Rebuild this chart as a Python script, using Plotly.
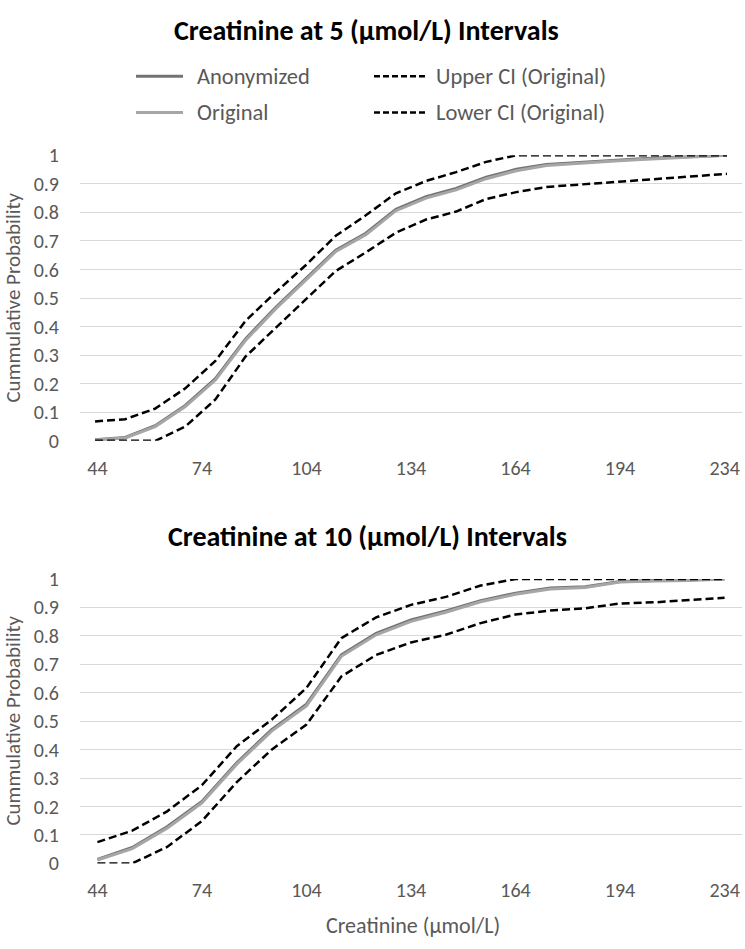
import plotly.graph_objects as go

# ---------------- data ----------------
# Top chart: 5 umol/L intervals (22 bins)
top_bins = [44, 49, 54, 59, 64, 69, 74, 79, 84, 89, 94, 99, 104, 109, 114,
            119, 124, 129, 134, 139, 144, 234]
top_anonymized = [0.004, 0.012, 0.053, 0.124, 0.218, 0.357, 0.467, 0.568, 0.668, 0.727, 0.811,
                  0.855, 0.884, 0.923, 0.951, 0.968, 0.975, 0.981, 0.987, 0.992, 0.996, 1.000]
top_original = [0.003, 0.010, 0.050, 0.120, 0.213, 0.352, 0.462, 0.563, 0.663, 0.722, 0.806,
                0.850, 0.879, 0.918, 0.946, 0.964, 0.972, 0.978, 0.984, 0.990, 0.994, 1.000]
top_upper = [0.068, 0.076, 0.113, 0.184, 0.280, 0.420, 0.520, 0.615, 0.718, 0.790, 0.867,
             0.910, 0.941, 0.977, 1.000, 1.000, 1.000, 1.000, 1.000, 1.000, 1.000, 1.000]
top_lower = [0.000, 0.000, 0.000, 0.050, 0.145, 0.295, 0.395, 0.492, 0.595, 0.660, 0.729,
             0.775, 0.803, 0.847, 0.871, 0.889, 0.897, 0.905, 0.913, 0.920, 0.927, 0.935]

# Bottom chart: 10 umol/L intervals (19 bins)
bot_bins = [44, 54, 64, 74, 84, 94, 104, 114, 124, 134, 144, 154, 164, 174, 184,
            194, 204, 214, 234]
bot_anonymized = [0.014, 0.056, 0.129, 0.218, 0.354, 0.470, 0.560, 0.733, 0.809, 0.856,
                  0.888, 0.924, 0.950, 0.968, 0.973, 0.991, 0.995, 0.997, 1.000]
bot_original = [0.012, 0.052, 0.124, 0.213, 0.349, 0.465, 0.554, 0.728, 0.804, 0.851,
                0.883, 0.920, 0.946, 0.965, 0.970, 0.989, 0.993, 0.995, 1.000]
bot_upper = [0.075, 0.115, 0.183, 0.275, 0.412, 0.505, 0.617, 0.792, 0.865, 0.909,
             0.937, 0.977, 1.000, 1.000, 1.000, 1.000, 1.000, 1.000, 1.000]
bot_lower = [0.000, 0.000, 0.058, 0.149, 0.286, 0.400, 0.488, 0.657, 0.733, 0.777,
             0.804, 0.845, 0.875, 0.889, 0.897, 0.914, 0.918, 0.926, 0.934]

label_every = 3
series_names = ["Anonymized", "Original", "Upper CI (Original)", "Lower CI (Original)"]

# ---------------- styles ----------------
W, H = 745, 949
FONT = "Carlito, Lato, sans-serif"
GRAY_TXT = "#595959"
C_ANON = "#737373"
C_ORIG = "#a6a6a6"
DASH = "8px,4px"

def px_x(p):
    return p / W

def px_y(p):
    return 1 - p / H

fig = go.Figure()

def add_chart(bins, anon, orig, upper, lower, xa, ya):
    xs = list(range(len(bins)))
    hov = [str(b) for b in bins]
    fig.add_trace(go.Scatter(x=xs, y=anon, mode="lines", name=series_names[0],
                             line=dict(color=C_ANON, width=3), xaxis=xa, yaxis=ya,
                             showlegend=False, cliponaxis=False, text=hov))
    fig.add_trace(go.Scatter(x=xs, y=orig, mode="lines", name=series_names[1],
                             line=dict(color=C_ORIG, width=3), xaxis=xa, yaxis=ya,
                             showlegend=False, cliponaxis=False, text=hov))
    fig.add_trace(go.Scatter(x=xs, y=upper, mode="lines", name=series_names[2],
                             line=dict(color="black", width=2.5, dash=DASH), xaxis=xa, yaxis=ya,
                             showlegend=False, cliponaxis=False, text=hov))
    fig.add_trace(go.Scatter(x=xs, y=lower, mode="lines", name=series_names[3],
                             line=dict(color="black", width=2.5, dash=DASH), xaxis=xa, yaxis=ya,
                             showlegend=False, cliponaxis=False, text=hov))

add_chart(top_bins, top_anonymized, top_original, top_upper, top_lower, "x", "y")
add_chart(bot_bins, bot_anonymized, bot_original, bot_upper, bot_lower, "x2", "y2")

# tick labels (same label row under both charts, taken from the 10-interval bins)
lab_idx = list(range(0, len(bot_bins), label_every))
lab_txt = [str(bot_bins[i]) for i in lab_idx]
n_top, n_bot = len(top_bins), len(bot_bins)
top_tickvals = [(i + 0.5) * n_top / n_bot - 0.5 for i in lab_idx]

xdom = [px_x(80), px_x(742)]
tickfont = dict(family=FONT, size=20, color=GRAY_TXT)
common_x = dict(domain=xdom, showgrid=False, zeroline=False, showline=False,
                ticks="", tickfont=tickfont, ticklabelstandoff=13, fixedrange=True)
common_y = dict(range=[0, 1], dtick=0.1, tick0=0, showgrid=True, gridcolor="#d9d9d9",
                gridwidth=1, zeroline=False, showline=False, ticks="",
                tickfont=tickfont, ticklabelstandoff=20, fixedrange=True)

fig.update_layout(
    width=W, height=H,
    margin=dict(l=0, r=0, t=0, b=0),
    paper_bgcolor="white", plot_bgcolor="white",
    showlegend=False,
    xaxis=dict(common_x, range=[-0.5, n_top - 0.5], tickvals=top_tickvals,
               ticktext=lab_txt, anchor="y"),
    yaxis=dict(common_y, domain=[px_y(440), px_y(147)], anchor="x"),
    xaxis2=dict(common_x, range=[-0.5, n_bot - 0.5], tickvals=lab_idx,
                ticktext=lab_txt, anchor="y2"),
    yaxis2=dict(common_y, domain=[px_y(873.5), px_y(581.7)], anchor="x2"),
)

ann = []
ann.append(dict(text="<b>Creatinine at 5 (µmol/L) Intervals</b>", x=px_x(366), y=px_y(19),
                xref="paper", yref="paper", showarrow=False, xanchor="center", yanchor="middle",
                font=dict(family=FONT, size=28, color="black")))
ann.append(dict(text="<b>Creatinine at 10 (µmol/L) Intervals</b>", x=px_x(367), y=px_y(538),
                xref="paper", yref="paper", showarrow=False, xanchor="center", yanchor="middle",
                font=dict(family=FONT, size=28, color="black")))
for yc in (293, 727):
    ann.append(dict(text="Cummulative Probability", x=px_x(13), y=px_y(yc), textangle=-90,
                    xref="paper", yref="paper", showarrow=False, xanchor="center",
                    yanchor="middle", font=dict(family=FONT, size=21, color=GRAY_TXT)))
ann.append(dict(text="Creatinine (µmol/L)", x=px_x(413), y=px_y(937),
                xref="paper", yref="paper", showarrow=False, xanchor="center", yanchor="middle",
                font=dict(family=FONT, size=22, color=GRAY_TXT)))

# manual legend (top chart)
shapes = []
legend_items = [
    (series_names[0], 136, 183, 195, 66, dict(color=C_ANON, width=3)),
    (series_names[2], 374, 426, 434, 66, dict(color="black", width=2.5, dash="6px,3px")),
    (series_names[1], 136, 183, 195, 103, dict(color=C_ORIG, width=3)),
    (series_names[3], 374, 426, 434, 103, dict(color="black", width=2.5, dash="6px,3px")),
]
for name, x0, x1, xt, yy, ln in legend_items:
    shapes.append(dict(type="line", xref="paper", yref="paper", x0=px_x(x0), x1=px_x(x1),
                       y0=px_y(yy), y1=px_y(yy), line=ln))
    ann.append(dict(text=name, x=px_x(xt), y=px_y(yy), xref="paper", yref="paper",
                    showarrow=False, xanchor="left", yanchor="middle",
                    font=dict(family=FONT, size=22.5, color=GRAY_TXT)))

fig.update_layout(annotations=ann, shapes=shapes)
fig.write_html("out.html", config={"displayModeBar": False},
               post_script="document.body.style.margin='0';document.body.style.overflow='hidden';")
